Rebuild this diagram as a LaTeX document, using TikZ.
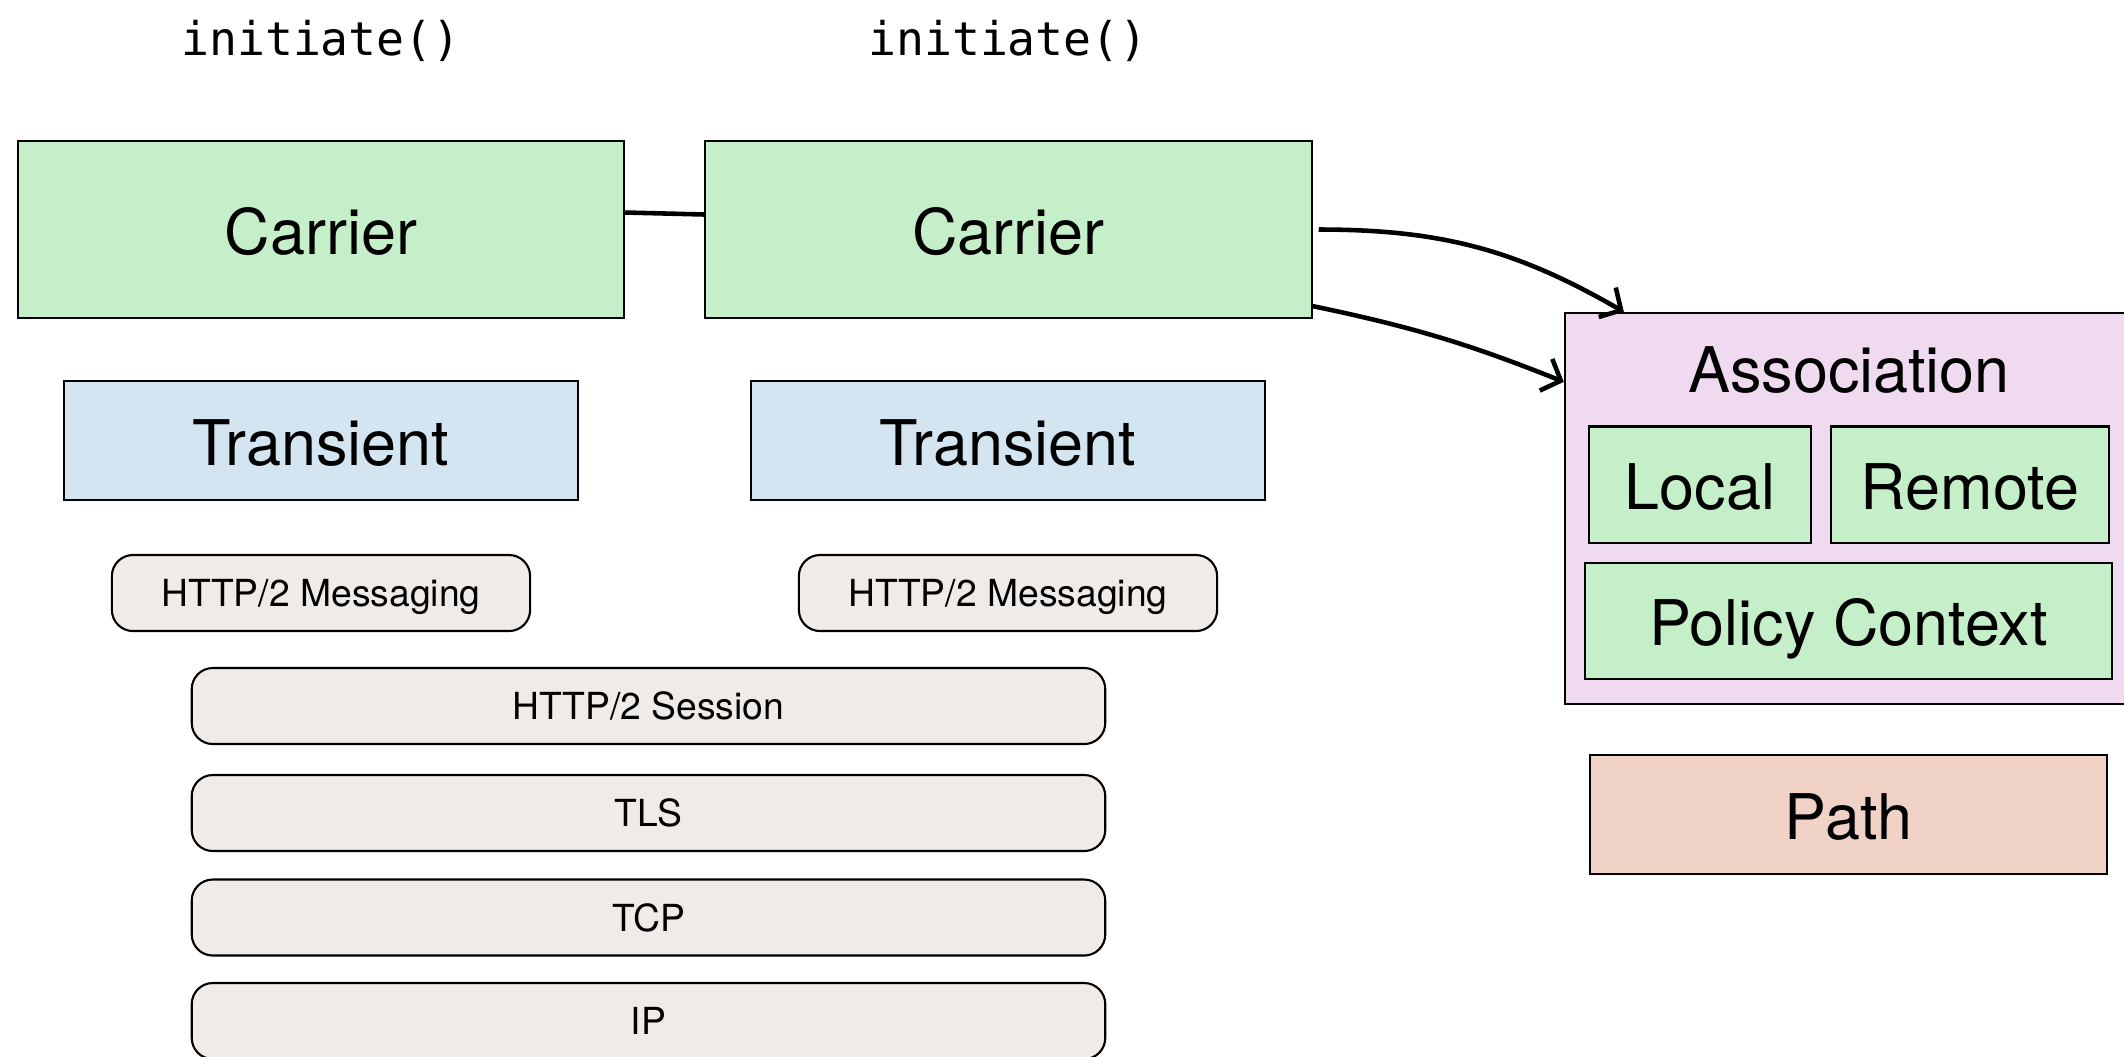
\documentclass[tikz,border=0pt]{standalone}
\usepackage{fontspec}
\setmainfont{TeX Gyre Heros}
\newfontfamily\codefont{DejaVu Sans Mono}
\usetikzlibrary{arrows.meta}

\definecolor{carriergreen}{RGB}{196,239,200}
\definecolor{transblue}{RGB}{211,229,240}
\definecolor{layergray}{RGB}{239,235,232}
\definecolor{assocpink}{RGB}{239,218,239}
\definecolor{pathred}{RGB}{240,211,198}

\begin{document}
\begin{tikzpicture}[x=0.01cm, y=-0.01cm,
	box/.style={draw, line width=0.6pt, inner sep=0pt, text height=14pt, text depth=0pt,
		font=\fontsize{17.9}{20}\selectfont},
	carrier/.style={box, fill=carriergreen, minimum width=6.06cm, minimum height=1.77cm},
	transient/.style={box, fill=transblue, minimum width=5.14cm, minimum height=1.19cm},
	layer/.style={draw, line width=0.6pt, fill=layergray, rounded corners=6pt, inner sep=0pt,
		text height=7.8pt, text depth=0pt, minimum height=0.76cm, font=\fontsize{10.6}{12}\selectfont},
	part/.style={box, fill=carriergreen, minimum height=1.16cm},
	arr/.style={line width=1.3pt, -{Straight Barb[length=1.6mm, width=3.4mm]}}
]

	\useasboundingbox (0,0) rectangle (2124,1056);

	% calls on top
	\node[font=\codefont\fontsize{13.2}{15}\selectfont] (initA) at (321,41) {initiate()};
	\node[font=\codefont\fontsize{13.2}{15}\selectfont] (initB) at (1008,41) {initiate()};

	% two carriers with their stacks
	\node[carrier] (carrierA) at (321,229.5) {Carrier};
	\node[carrier] (carrierB) at (1008.5,229.5) {Carrier};

	\node[transient] (transA) at (321,440.5) {Transient};
	\node[transient] (transB) at (1008,440.5) {Transient};

	\node[layer, minimum width=4.18cm] (msgA) at (321,593) {HTTP/2 Messaging};
	\node[layer, minimum width=4.18cm] (msgB) at (1008,593) {HTTP/2 Messaging};

	\node[layer, minimum width=9.13cm] (session) at (648.5,706) {HTTP/2 Session};
	\node[layer, minimum width=9.13cm] (tls) at (648.5,813) {TLS};
	\node[layer, minimum width=9.13cm] (tcp) at (648.5,917.5) {TCP};
	\node[layer, minimum width=9.13cm] (ip) at (648.5,1021) {IP};

	\draw[line width=1.3pt] ([yshift=0.17cm]carrierA.east) -- ([yshift=0.15cm]carrierB.west);

	% association
	\node[box, fill=assocpink, minimum width=5.68cm, minimum height=3.91cm] (assoc) at (1849,508.5) {};
	\node[font=\fontsize{17.9}{20}\selectfont, text height=14pt, text depth=0pt] (assoclabel) at (1849,368) {Association};
	\node[part, minimum width=2.22cm] (local) at (1700,484.5) {Local};
	\node[part, minimum width=2.78cm] (remote) at (1970,484.5) {Remote};
	\node[part, minimum width=5.27cm] (policy) at (1848.5,621) {Policy Context};

	\node[box, fill=pathred, minimum width=5.17cm, minimum height=1.19cm] (path) at (1848.5,814.5) {Path};

	\draw[arr] ([xshift=0.06cm]carrierB.east) to[out=0, in=150] ([xshift=0.6cm]assoc.north west);
	\draw[arr] ([yshift=0.13cm]carrierB.south east) to[bend left=5] ([yshift=-0.7cm]assoc.north west);

\end{tikzpicture}
\end{document}
